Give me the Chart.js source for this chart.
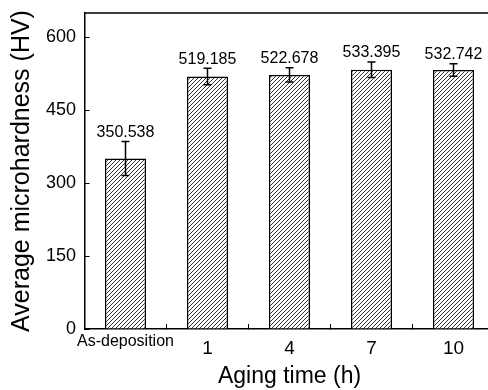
<!DOCTYPE html>
<html>
<head>
<meta charset="utf-8">
<script src="https://cdn.jsdelivr.net/npm/chart.js@4.4.1/dist/chart.umd.min.js"></script>
<style>
  html, body { margin: 0; padding: 0; background: #fff; overflow: hidden; }
  #wrap { width: 488px; height: 390px; overflow: hidden; }
</style>
</head>
<body>
<div id="wrap"><canvas id="chart" width="500" height="390"></canvas></div>
<script>
const categories = ['As-deposition', '1', '4', '7', '10'];
const hardness = [350.538, 519.185, 522.678, 533.395, 532.742];
const hardnessErr = [35, 17, 14.5, 16, 13];
const yTicks = [0, 150, 300, 450, 600];

const FONT = "'Liberation Sans', Arial, Helvetica, sans-serif";

// diagonal "////" hatch used to fill the bars
function makeHatch() {
  const s = 4;
  const c = document.createElement('canvas');
  c.width = s;
  c.height = s;
  const g = c.getContext('2d');
  g.fillStyle = '#fff';
  g.fillRect(0, 0, s, s);
  g.strokeStyle = '#333';
  g.lineWidth = 1;
  g.beginPath();
  g.moveTo(-1, s + 1);
  g.lineTo(s + 1, -1);
  g.stroke();
  return g.createPattern(c, 'repeat');
}

// error bars plus the value printed above each one
const errorBars = {
  id: 'errorBars',
  afterDatasetsDraw(chart) {
    const ctx = chart.ctx;
    const y = chart.scales.y;
    const meta = chart.getDatasetMeta(0);
    ctx.save();
    ctx.strokeStyle = '#000';
    ctx.lineWidth = 1.5;
    meta.data.forEach((bar, i) => {
      const top = y.getPixelForValue(hardness[i] + hardnessErr[i]);
      const bot = y.getPixelForValue(hardness[i] - hardnessErr[i]);
      ctx.beginPath();
      ctx.moveTo(bar.x, top);
      ctx.lineTo(bar.x, bot);
      ctx.moveTo(bar.x - 4, top);
      ctx.lineTo(bar.x + 4, top);
      ctx.moveTo(bar.x - 4, bot);
      ctx.lineTo(bar.x + 4, bot);
      ctx.stroke();

      ctx.fillStyle = '#000';
      ctx.font = '16px ' + FONT;
      ctx.textAlign = 'center';
      ctx.textBaseline = 'alphabetic';
      ctx.fillText(hardness[i].toFixed(3), bar.x, top - 4.5);
    });
    ctx.restore();
  }
};

// closing frame line on top and right
const frame = {
  id: 'frame',
  afterDraw(chart) {
    const { ctx, chartArea: a } = chart;
    ctx.save();
    ctx.strokeStyle = '#000';
    ctx.lineWidth = 1.5;
    ctx.beginPath();
    ctx.moveTo(a.left, a.top);
    ctx.lineTo(a.right, a.top);
    ctx.lineTo(a.right, a.bottom);
    ctx.stroke();
    ctx.restore();
  }
};

new Chart(document.getElementById('chart'), {
  type: 'bar',
  data: {
    labels: categories,
    datasets: [{
      data: hardness,
      backgroundColor: makeHatch(),
      borderColor: '#000',
      borderWidth: 1.5,
      categoryPercentage: 1,
      barPercentage: 0.5
    }]
  },
  options: {
    responsive: false,
    animation: false,
    layout: { padding: { top: 13, right: 5.5, left: 0, bottom: 0 } },
    plugins: {
      legend: { display: false },
      tooltip: { enabled: false }
    },
    scales: {
      x: {
        afterFit: s => {
          s.height = 61;
          s.paddingLeft = 0;
          s.paddingRight = 0;
        },
        border: { color: '#000', width: 1.5 },
        grid: { drawOnChartArea: false, tickLength: -5, color: '#000', lineWidth: 1 },
        ticks: {
          color: '#000',
          padding: 8.4,
          maxRotation: 0,
          autoSkip: false,
          font: ctx => ctx.index === 0
            ? { family: FONT, size: 16, lineHeight: 1.2 }
            : { family: FONT, size: 19, lineHeight: 1.75 }
        },
        title: {
          display: true,
          text: 'Aging time (h)',
          color: '#000',
          font: { family: FONT, size: 23 },
          padding: { top: 0, bottom: 0 }
        }
      },
      y: {
        min: 0,
        max: 650,
        afterFit: s => {
          s.width = 84.5;
          s.paddingTop = 0;
          s.paddingBottom = 0;
        },
        afterBuildTicks: s => { s.ticks = yTicks.map(v => ({ value: v })); },
        border: { color: '#000', width: 1.5 },
        grid: { drawOnChartArea: false, tickLength: -5, color: '#000', lineWidth: 1 },
        ticks: {
          color: '#000',
          padding: 13.5,
          font: { family: FONT, size: 18 }
        },
        title: {
          display: true,
          text: 'Average microhardness (HV)',
          color: '#000',
          font: { family: FONT, size: 25 },
          padding: { top: 7, bottom: 0 }
        }
      }
    }
  },
  plugins: [errorBars, frame]
});
</script>
</body>
</html>
